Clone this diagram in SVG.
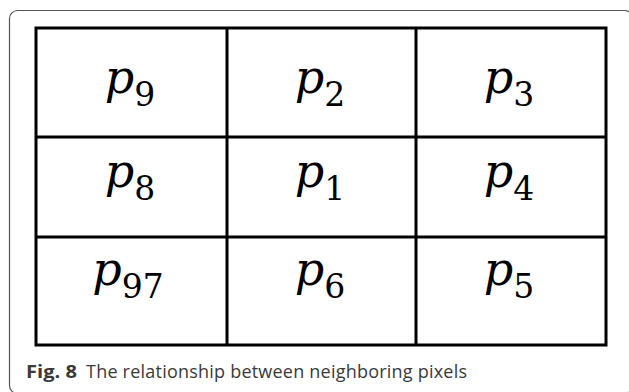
<svg xmlns="http://www.w3.org/2000/svg" width="629" height="392" viewBox="0 0 629 392">
<style>
.m{font-family:"DejaVu Serif","Liberation Serif",serif;font-style:italic;font-size:46px;fill:#000;text-anchor:middle}
.s{font-style:normal;font-size:33px}
.grid{fill:none;stroke:#000;stroke-width:3}
.cap{font-family:"Open Sans","Noto Sans",sans-serif;font-size:18px;fill:#3a3a3a}
</style>
<rect x="9.5" y="10.5" width="623" height="383" rx="8" fill="#fff" stroke="#555" stroke-width="1.2"/>
<g id="grid">
<rect class="grid" x="36" y="28" width="570" height="317"/>
<line class="grid" x1="227" y1="28" x2="227" y2="345"/>
<line class="grid" x1="416" y1="28" x2="416" y2="345"/>
<line class="grid" x1="36" y1="137" x2="606" y2="137"/>
<line class="grid" x1="36" y1="237" x2="606" y2="237"/>
</g>
<g id="p9"><text class="m" x="130" y="93">p<tspan class="s" dy="13">9</tspan></text></g>
<g id="p2"><text class="m" x="320" y="93">p<tspan class="s" dy="13">2</tspan></text></g>
<g id="p3"><text class="m" x="509" y="93">p<tspan class="s" dy="13">3</tspan></text></g>
<g id="p8"><text class="m" x="130" y="187">p<tspan class="s" dy="13">8</tspan></text></g>
<g id="p1"><text class="m" x="320" y="187">p<tspan class="s" dy="13">1</tspan></text></g>
<g id="p4"><text class="m" x="509" y="187">p<tspan class="s" dy="13">4</tspan></text></g>
<g id="p97"><text class="m" x="128" y="285">p<tspan class="s" dy="13">97</tspan></text></g>
<g id="p6"><text class="m" x="320" y="285">p<tspan class="s" dy="13">6</tspan></text></g>
<g id="p5"><text class="m" x="509" y="285">p<tspan class="s" dy="13">5</tspan></text></g>
<text class="cap" x="26" y="378" font-weight="bold" fill="#222" textLength="51" lengthAdjust="spacingAndGlyphs">Fig. 8</text>
<text class="cap" x="86" y="378" textLength="381">The relationship between neighboring pixels</text>
</svg>
